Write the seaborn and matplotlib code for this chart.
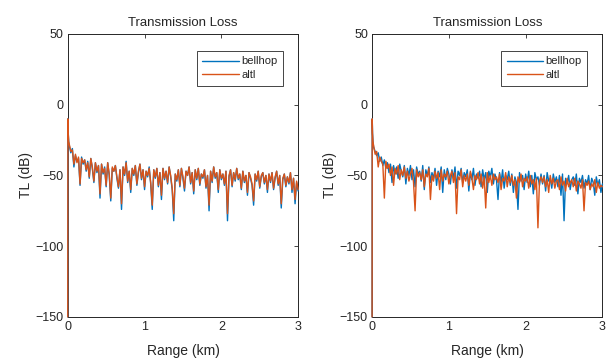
import numpy as np
import pandas as pd
import matplotlib
matplotlib.use("Agg")
import matplotlib.pyplot as plt
import seaborn as sns

# range grid: a few samples right at the source, then every 0.02 km
range_head = [0.0, 0.002, 0.006, 0.012]
range_km = np.concatenate([range_head, np.linspace(0.02, 3.0, 150)])

tl_head = [-150, -10, -20, -26]

# left panel
left_bellhop = tl_head + [
    -29, -34, -31, -44, -36, -40, -38, -57, -37, -42,
    -39, -47, -40, -52, -38, -45, -55, -41, -48, -43,
    -66, -42, -49, -44, -58, -41, -50, -68, -45, -47,
    -43, -52, -59, -46, -74, -44, -50, -40, -55, -47,
    -62, -45, -50, -43, -57, -48, -42, -53, -46, -60,
    -47, -51, -44, -56, -74, -46, -52, -45, -58, -48,
    -67, -45, -53, -47, -56, -44, -51, -60, -82, -49,
    -54, -46, -58, -45, -52, -61, -47, -50, -44, -56,
    -48, -63, -46, -53, -45, -57, -49, -52, -46, -59,
    -50, -75, -47, -55, -44, -52, -48, -62, -46, -53,
    -49, -57, -47, -82, -51, -46, -58, -48, -54, -45,
    -53, -49, -60, -47, -55, -50, -64, -48, -52, -57,
    -71, -49, -54, -47, -59, -51, -48, -56, -50, -62,
    -49, -55, -48, -60, -52, -47, -57, -50, -73, -53,
    -49, -58, -51, -56, -48, -62, -52, -70, -55, -61,
]
left_altl = tl_head + [
    -28, -33, -32, -42, -35, -41, -37, -56, -38, -41,
    -39, -46, -41, -51, -38, -44, -54, -41, -47, -43,
    -63, -42, -48, -45, -57, -41, -49, -66, -44, -47,
    -43, -51, -58, -46, -70, -44, -49, -41, -54, -47,
    -60, -45, -49, -43, -56, -47, -42, -52, -46, -58,
    -47, -50, -45, -55, -71, -46, -51, -45, -57, -48,
    -64, -45, -52, -47, -55, -44, -50, -59, -77, -49,
    -53, -46, -57, -45, -51, -59, -47, -50, -44, -55,
    -48, -61, -46, -52, -45, -56, -49, -51, -46, -58,
    -50, -71, -47, -54, -44, -51, -48, -60, -46, -52,
    -49, -56, -47, -77, -50, -46, -57, -48, -53, -45,
    -52, -49, -59, -47, -54, -50, -62, -48, -51, -56,
    -68, -49, -53, -47, -58, -50, -48, -55, -50, -60,
    -49, -54, -48, -59, -51, -47, -56, -50, -70, -52,
    -49, -57, -51, -55, -48, -60, -52, -67, -54, -60,
]

# right panel
right_bellhop = tl_head + [
    -30, -33, -36, -34, -40, -37, -43, -39, -45, -41,
    -48, -42, -55, -43, -49, -44, -52, -42, -47, -51,
    -43, -56, -45, -50, -43, -53, -46, -58, -44, -49,
    -47, -54, -43, -60, -46, -50, -44, -55, -48, -52,
    -45, -57, -47, -51, -44, -62, -46, -53, -45, -49,
    -56, -46, -52, -44, -59, -47, -50, -45, -55, -48,
    -51, -46, -61, -48, -53, -45, -57, -49, -52, -47,
    -58, -46, -53, -48, -62, -47, -51, -45, -56, -49,
    -53, -67, -48, -55, -46, -59, -50, -53, -47, -57,
    -49, -62, -51, -55, -74, -48, -54, -50, -60, -49,
    -55, -47, -58, -50, -63, -48, -53, -51, -57, -49,
    -56, -50, -61, -48, -54, -52, -59, -49, -55, -51,
    -58, -50, -64, -49, -82, -52, -56, -50, -60, -53,
    -51, -57, -49, -63, -52, -55, -50, -59, -53, -56,
    -50, -60, -52, -55, -64, -51, -57, -53, -62, -56,
]
right_altl = tl_head + [
    -29, -35, -33, -44, -37, -40, -42, -66, -40, -45,
    -42, -50, -44, -57, -45, -49, -43, -53, -46, -50,
    -44, -52, -47, -54, -49, -45, -55, -75, -46, -51,
    -48, -53, -46, -58, -49, -51, -45, -67, -50, -54,
    -47, -52, -48, -60, -46, -54, -49, -51, -47, -56,
    -50, -47, -55, -48, -77, -51, -53, -46, -58, -50,
    -54, -49, -57, -47, -52, -60, -50, -53, -48, -56,
    -49, -59, -51, -73, -48, -55, -50, -57, -49, -53,
    -51, -55, -49, -60, -52, -54, -48, -58, -51, -55,
    -50, -57, -53, -66, -51, -55, -49, -58, -52, -54,
    -51, -59, -50, -56, -53, -60, -52, -87, -54, -51,
    -55, -51, -58, -53, -62, -50, -56, -52, -59, -54,
    -53, -60, -51, -57, -54, -61, -52, -58, -55, -53,
    -58, -52, -61, -54, -56, -59, -53, -75, -55, -57,
    -54, -60, -56, -58, -53, -62, -55, -59, -57, -58,
]

model_names = ["bellhop", "altl"]
colors = {"bellhop": "#0072BD", "altl": "#D95319"}

sns.set_style("white")
plt.rcParams["font.family"] = ["Liberation Sans", "DejaVu Sans"]

fig = plt.figure(figsize=(6.16, 3.61), dpi=100)
ax_left = fig.add_axes([0.110, 0.122, 0.374, 0.784])
ax_right = fig.add_axes([0.604, 0.122, 0.374, 0.784])

for ax, bell, altl in [(ax_left, left_bellhop, left_altl), (ax_right, right_bellhop, right_altl)]:
    df = pd.DataFrame({
        "range": np.concatenate([range_km, range_km]),
        "tl": bell + altl,
        "model": ["bellhop"] * len(bell) + ["altl"] * len(altl),
    })
    sns.lineplot(data=df, x="range", y="tl", hue="model", hue_order=model_names,
                 palette=colors, estimator=None, sort=False, linewidth=1.0,
                 legend=False, ax=ax, zorder=3, clip_on=False)
    ax.set_xlim(0, 3)
    ax.set_ylim(-150, 50)
    ax.set_xticks([0, 1, 2, 3])
    ax.set_yticks([-150, -100, -50, 0, 50])
    ax.set_title("Transmission Loss", fontsize=9.5, pad=6)
    ax.set_xlabel("Range (km)", fontsize=10, labelpad=8)
    ax.set_ylabel("TL (dB)", fontsize=10, labelpad=2)
    ax.tick_params(direction="in", top=True, right=True, length=3, width=0.6,
                   labelsize=9, colors="#262626", pad=3)
    for sp in ax.spines.values():
        sp.set_color("#262626")
        sp.set_linewidth(0.7)
    leg = ax.legend(ax.lines[:2], model_names, loc="upper right",
                    bbox_to_anchor=(0.935, 0.94), borderaxespad=0, fontsize=8,
                    handlelength=3.3, handletextpad=0.2, borderpad=0.5,
                    labelspacing=0.35, frameon=True, fancybox=False, framealpha=1)
    leg.get_frame().set_edgecolor("#262626")
    leg.get_frame().set_linewidth(0.6)
    leg.set_zorder(5)

fig.savefig("out.png", dpi=100)
